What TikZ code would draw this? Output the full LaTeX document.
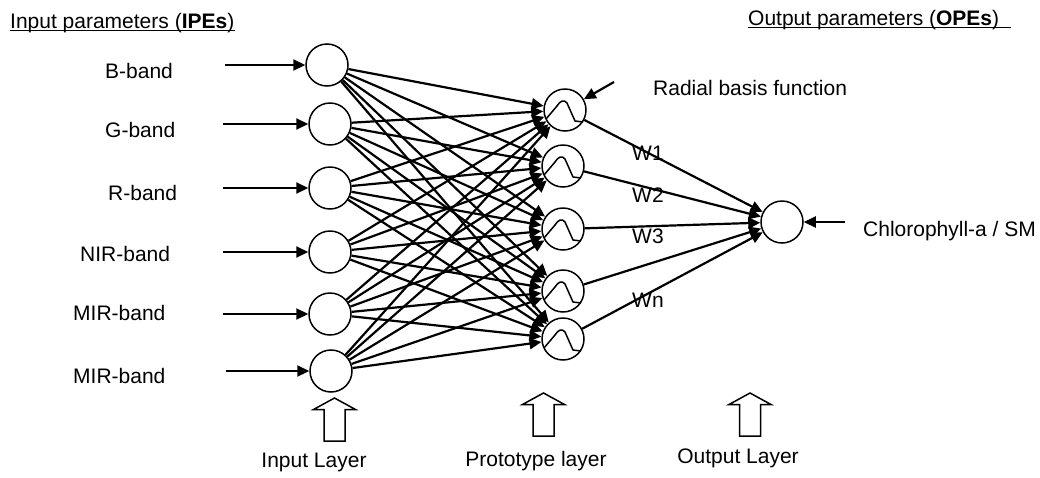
\documentclass[tikz,border=0pt]{standalone}
\usepackage{fontspec}
\setmainfont{Liberation Sans}
\usetikzlibrary{arrows.meta}
\begin{document}
\begin{tikzpicture}[x=1pt,y=-1pt,
  neuron/.style={circle,draw,line width=1.5pt,minimum size=42pt,inner sep=0pt},
  conn/.style={line width=2.2pt,-{Triangle[length=12pt,width=11pt]}},
  lbl/.style={inner sep=0pt,font=\fontsize{21}{25}\selectfont},
  hollow/.style={draw,line width=1.5pt,fill=white,line join=miter},
  rbfcurve/.style={line width=1.5pt,line join=round},
  layerarrow/.pic={\draw[hollow] (0,0) -- (21,11.5) -- (10.5,11.5) -- (10.5,43) -- (-10.5,43) -- (-10.5,11.5) -- (-21,11.5) -- cycle;}]
\useasboundingbox (0,0) rectangle (1040,477);

% headers
\node[lbl,anchor=base west] (hin) at (10,28) {Input parameters (\textbf{IPEs})};
\draw[line width=1.5pt] ([yshift=-2.5pt]hin.base west) -- ([yshift=-2.5pt]hin.base east);
\node[lbl,anchor=base west] (hout) at (748,25) {Output parameters (\textbf{OPEs})};
\draw[line width=1.5pt] ([yshift=-2.5pt]hout.base west) -- ([yshift=-2.5pt,xshift=12pt]hout.base east);

% input labels
\node[lbl,anchor=base west] (l1) at (105,78) {B-band};
\node[lbl,anchor=base west] (l2) at (105,137) {G-band};
\node[lbl,anchor=base west] (l3) at (108,200) {R-band};
\node[lbl,anchor=base west] (l4) at (80,261) {NIR-band};
\node[lbl,anchor=base west] (l5) at (73,320) {MIR-band};
\node[lbl,anchor=base west] (l6) at (73,383) {MIR-band};

% input neurons
\node[neuron] (i1) at (327,65) {};
\node[neuron] (i2) at (330,124) {};
\node[neuron] (i3) at (330,188) {};
\node[neuron] (i4) at (330,252) {};
\node[neuron] (i5) at (330,314) {};
\node[neuron] (i6) at (331,371) {};

\coordinate (s1) at (225,65);
\coordinate (s2) at (223,124);
\coordinate (s3) at (223,188);
\coordinate (s4) at (223,252);
\coordinate (s5) at (223,314);
\coordinate (s6) at (226,371);
\foreach \k in {1,...,6} \draw[conn] (s\k) -- (i\k);

% prototype neurons
\node[neuron] (p1) at (565,110) {};
\node[neuron] (p2) at (563,166) {};
\node[neuron] (p3) at (563,229) {};
\node[neuron] (p4) at (563,291) {};
\node[neuron] (p5) at (563,339) {};
\foreach \k in {1,...,5} {
  \begin{scope}[shift={(p\k)}]
    \draw[rbfcurve] (-19,9) -- (-8,-4) .. controls (-5,-9) and (-1,-11) .. (2,-7)
      -- (10,11) -- (18,12);
  \end{scope}
}

% output neuron
\node[neuron] (o) at (782,222) {};

% input -> prototype
\foreach \a in {1,...,6} {
  \foreach \b in {1,...,5} {
    \draw[conn] (i\a) -- (p\b);
  }
}

% prototype -> output
\foreach \b in {1,...,5} \draw[conn] (p\b) -- (o);

% weights
\node[lbl,anchor=base west] (w1) at (632,160) {W1};
\node[lbl,anchor=base west] (w2) at (632,202) {W2};
\node[lbl,anchor=base west] (w3) at (632,243) {W3};
\node[lbl,anchor=base west] (wn) at (632,307) {Wn};

% radial basis function
\coordinate (rbf) at (614,82);
\draw[conn] (rbf) -- (p1);
\node[lbl,anchor=base west] (rbft) at (653,95) {Radial basis function};

% output label
\coordinate (cs) at (845,222);
\draw[conn] (cs) -- (o);
\node[lbl,anchor=base west] (ct) at (863,236) {Chlorophyll-a / SM};

% layer arrows
\pic at (334.5,398) {layerarrow};
\pic at (543.5,393) {layerarrow};
\pic at (750,393) {layerarrow};
\node[lbl,anchor=base] (la1) at (314,467) {Input Layer};
\node[lbl,anchor=base] (la2) at (536,466) {Prototype layer};
\node[lbl,anchor=base] (la3) at (738,463) {Output Layer};
\end{tikzpicture}
\end{document}
